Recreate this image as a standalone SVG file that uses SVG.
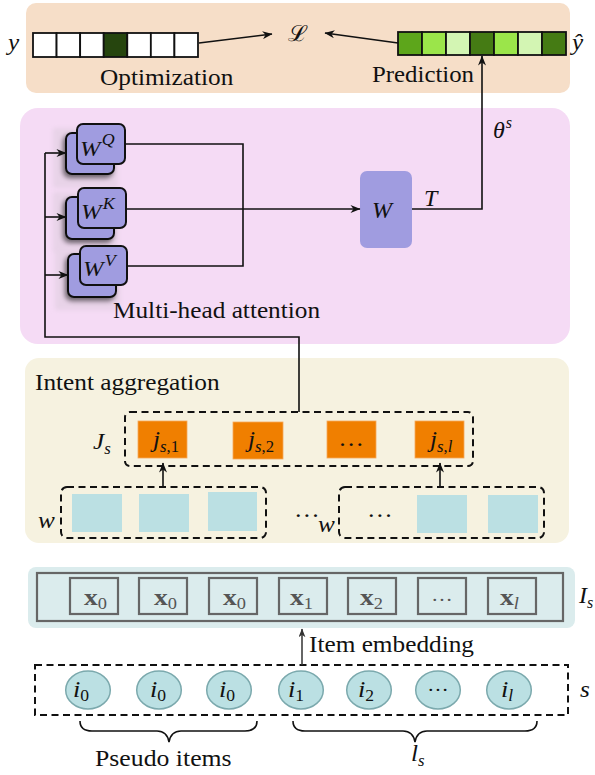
<svg xmlns="http://www.w3.org/2000/svg" width="595" height="775" viewBox="0 0 595 775">
<style>
.t{font-family:"Liberation Serif",serif;font-size:23px;fill:#111}
.m{font-family:"Liberation Serif",serif;font-style:italic;font-size:24px;fill:#111}
.sb{font-size:16px}
.up{font-style:normal}
.it{font-style:italic}
.ln{fill:none;stroke:#111;stroke-width:1.6}
.dash{fill:none;stroke:#111;stroke-width:2;stroke-dasharray:7 4.5}
.wb{fill:#a09ce0;stroke:#111;stroke-width:2}
.or{fill:#f07f00;stroke:#f6a85a;stroke-width:0.8}
.bl{fill:#bbe0e3}
.xb{fill:none;stroke:#666;stroke-width:2.2}
.xt{font-family:"Liberation Serif",serif;font-weight:bold;font-size:24px;fill:#555}
.cir{fill:#bbe0e3;stroke:#7ba9ad;stroke-width:1.5}
.shreg{fill:#e8d3e8}
</style>
<defs>
<marker id="ah" viewBox="0 0 10 8" refX="9.5" refY="4" markerWidth="11" markerHeight="8" markerUnits="userSpaceOnUse" orient="auto">
<path d="M0,0 L10,4 L0,8 L3,4 z" fill="#111"/>
</marker>
<marker id="ahg" viewBox="0 0 10 8" refX="9.5" refY="4" markerWidth="9" markerHeight="7" markerUnits="userSpaceOnUse" orient="auto">
<path d="M0,0 L10,4 L0,8 L3,4 z" fill="#333"/>
</marker>
<filter id="sh" x="-40%" y="-40%" width="180%" height="180%">
<feGaussianBlur in="SourceAlpha" stdDeviation="2.5"/>
<feOffset dx="-2" dy="3" result="o"/>
<feComponentTransfer><feFuncA type="linear" slope="0.55"/></feComponentTransfer>
<feMerge><feMergeNode/><feMergeNode in="SourceGraphic"/></feMerge>
</filter>
<filter id="soft" x="-20%" y="-20%" width="140%" height="140%">
<feGaussianBlur stdDeviation="2"/>
</filter>
</defs>

<!-- panels -->
<g id="panel-output">
<rect x="26" y="3" width="544" height="90" rx="10" fill="#f6dec8"/>
</g>
<g id="panel-attention">
<rect x="20" y="108" width="550" height="236" rx="18" fill="#f5dbf5"/>
</g>
<g id="panel-intent">
<rect x="25" y="358" width="544" height="185" rx="14" fill="#f6f2e0"/>
</g>
<g id="panel-embedding">
<rect x="28" y="567" width="547" height="61" rx="8" fill="#dbeced"/>
<rect x="37" y="573" width="526" height="48" class="xb"/>
</g>

<!-- output row -->
<g id="node-y">
<rect x="33" y="33" width="23.57" height="24" fill="#fff" stroke="#111" stroke-width="1.8"/>
<rect x="56.57" y="33" width="23.57" height="24" fill="#fff" stroke="#111" stroke-width="1.8"/>
<rect x="80.14" y="33" width="23.57" height="24" fill="#fff" stroke="#111" stroke-width="1.8"/>
<rect x="103.71" y="33" width="23.57" height="24" fill="#26450e" stroke="#111" stroke-width="1.8"/>
<rect x="127.28" y="33" width="23.57" height="24" fill="#fff" stroke="#111" stroke-width="1.8"/>
<rect x="150.85" y="33" width="23.57" height="24" fill="#fff" stroke="#111" stroke-width="1.8"/>
<rect x="174.42" y="33" width="23.57" height="24" fill="#fff" stroke="#111" stroke-width="1.8"/>
<text class="m" transform="translate(8 50) scale(1.05 1)">y</text>
<text class="t" transform="translate(100 85) scale(1.1 1)">Optimization</text>
</g>
<g id="node-loss">
<text transform="translate(288 41) scale(1.1 1)" style="font-family:'DejaVu Serif',serif;font-size:22px;fill:#111">ℒ</text>
</g>
<g id="node-yhat">
<rect x="398" y="32" width="24" height="23" fill="#5da61b" stroke="#111" stroke-width="1.8"/>
<rect x="422" y="32" width="24" height="23" fill="#9be54a" stroke="#111" stroke-width="1.8"/>
<rect x="446" y="32" width="24" height="23" fill="#d3f5b3" stroke="#111" stroke-width="1.8"/>
<rect x="470" y="32" width="24" height="23" fill="#457b14" stroke="#111" stroke-width="1.8"/>
<rect x="494" y="32" width="24" height="23" fill="#9be54a" stroke="#111" stroke-width="1.8"/>
<rect x="518" y="32" width="24" height="23" fill="#d3f5b3" stroke="#111" stroke-width="1.8"/>
<rect x="542" y="32" width="24" height="23" fill="#457b14" stroke="#111" stroke-width="1.8"/>
<text class="m" transform="translate(572 50) scale(1.05 1)">ŷ</text>
<text class="t" transform="translate(372 82) scale(1.08 1)">Prediction</text>
</g>

<!-- attention heads -->
<g id="node-wq">
<rect x="53" y="128" width="65" height="60" class="shreg" filter="url(#soft)"/>
<rect x="66" y="133" width="48" height="41" rx="6" class="wb" filter="url(#sh)"/>
<rect x="77" y="124" width="48" height="40" rx="6" class="wb"/>
<text class="m" transform="translate(80 156) scale(1.12 1)" style="font-size:22px">W<tspan class="sb" dx="1" dy="-11">Q</tspan></text>
</g>
<g id="node-wk">
<rect x="53" y="192" width="65" height="60" class="shreg" filter="url(#soft)"/>
<rect x="66" y="197" width="48" height="42" rx="6" class="wb" filter="url(#sh)"/>
<rect x="78" y="188" width="48" height="40" rx="6" class="wb"/>
<text class="m" transform="translate(81 219) scale(1.12 1)" style="font-size:22px">W<tspan class="sb" dx="1" dy="-10">K</tspan></text>
</g>
<g id="node-wv">
<rect x="55" y="248" width="65" height="62" class="shreg" filter="url(#soft)"/>
<rect x="68" y="254" width="48" height="43" rx="6" class="wb" filter="url(#sh)"/>
<rect x="80" y="246" width="47" height="39" rx="6" class="wb"/>
<text class="m" transform="translate(83 276) scale(1.12 1)" style="font-size:22px">W<tspan class="sb" dx="1" dy="-10">V</tspan></text>
</g>
<g id="label-mha">
<text class="t" transform="translate(113 318) scale(1.1 1)">Multi-head attention</text>
</g>
<g id="node-w">
<rect x="360" y="171" width="52" height="77" rx="7" fill="#a09ce0"/>
<text class="m" transform="translate(372 218)">W</text>
</g>

<!-- intent aggregation -->
<g id="label-intent">
<text class="t" transform="translate(35 390) scale(1.1 1)">Intent aggregation</text>
</g>
<g id="node-js">
<rect x="125" y="412" width="348" height="54" rx="5" class="dash"/>
<rect x="138" y="421" width="49" height="37" class="or"/>
<rect x="233" y="422" width="50" height="37" class="or"/>
<rect x="327" y="421" width="49" height="37" class="or"/>
<rect x="415" y="421" width="49" height="37" class="or"/>
<text class="m" transform="translate(93 449) scale(1.05 1)">J<tspan class="sb it" dy="5">s</tspan></text>
<text class="m" transform="translate(153 447) scale(1.05 1)">j<tspan class="sb" dy="5"><tspan class="it">s</tspan><tspan class="up">,1</tspan></tspan></text>
<text class="m" transform="translate(248 447) scale(1.05 1)">j<tspan class="sb" dy="5"><tspan class="it">s</tspan><tspan class="up">,2</tspan></tspan></text>
<text class="t" text-anchor="middle" transform="translate(351 446) scale(1.12 1)">…</text>
<text class="m" transform="translate(430 447) scale(1.05 1)">j<tspan class="sb" dy="5"><tspan class="it">s</tspan><tspan class="up">,</tspan><tspan class="it">l</tspan></tspan></text>
</g>
<g id="node-w-left">
<rect x="61" y="487" width="205" height="51" rx="6" class="dash"/>
<rect x="72" y="494" width="50" height="38" class="bl"/>
<rect x="139" y="494" width="50" height="38" class="bl"/>
<rect x="208" y="492" width="49" height="39" class="bl"/>
<text class="m" transform="translate(38 528) scale(1.05 1)">w</text>
</g>
<g id="label-dots-mid">
<text class="t" transform="translate(294 517) scale(1.12 1)">…</text>
</g>
<g id="node-w-right">
<rect x="339" y="487" width="205" height="51" rx="6" class="dash"/>
<text class="t" transform="translate(367 517) scale(1.12 1)">…</text>
<rect x="417" y="495" width="50" height="38" class="bl"/>
<rect x="488" y="495" width="50" height="38" class="bl"/>
<text class="m" transform="translate(318 532) scale(1.05 1)">w</text>
</g>

<!-- embeddings -->
<g id="node-is">
<rect x="70" y="578" width="48" height="36" class="xb"/>
<rect x="139" y="578" width="48" height="36" class="xb"/>
<rect x="209" y="578" width="48" height="36" class="xb"/>
<rect x="279" y="578" width="48" height="36" class="xb"/>
<rect x="348" y="578" width="48" height="36" class="xb"/>
<rect x="418" y="578" width="48" height="36" class="xb"/>
<rect x="488" y="578" width="48" height="36" class="xb"/>
<text class="xt" transform="translate(84 605) scale(1.15 1)">x<tspan class="sb" font-weight="normal" dy="4">0</tspan></text>
<text class="xt" transform="translate(154 605) scale(1.15 1)">x<tspan class="sb" font-weight="normal" dy="4">0</tspan></text>
<text class="xt" transform="translate(223 605) scale(1.15 1)">x<tspan class="sb" font-weight="normal" dy="4">0</tspan></text>
<text class="xt" transform="translate(290 605) scale(1.15 1)">x<tspan class="sb" font-weight="normal" dy="4">1</tspan></text>
<text class="xt" transform="translate(360 605) scale(1.15 1)">x<tspan class="sb" font-weight="normal" dy="4">2</tspan></text>
<text class="t" text-anchor="middle" transform="translate(442 601) scale(1.19 1)" style="fill:#555;font-size:18px">…</text>
<text class="xt" transform="translate(500 605) scale(1.15 1)">x<tspan class="sb" font-weight="normal" font-style="italic" dy="4">l</tspan></text>
<text class="m" transform="translate(579 603) scale(1.0 1)">I<tspan class="sb it" dy="5">s</tspan></text>
</g>
<g id="label-item-embedding">
<text class="t" transform="translate(309 652) scale(1.1 1)">Item embedding</text>
</g>

<!-- session -->
<g id="node-s">
<rect x="35" y="665" width="533" height="50" class="dash"/>
<ellipse cx="88" cy="690" rx="22.3" ry="19" class="cir"/>
<ellipse cx="159" cy="690" rx="22.3" ry="19" class="cir"/>
<ellipse cx="229" cy="690" rx="22.3" ry="19" class="cir"/>
<ellipse cx="301" cy="690" rx="22.3" ry="19" class="cir"/>
<ellipse cx="369" cy="690" rx="22.3" ry="19" class="cir"/>
<ellipse cx="438" cy="690" rx="22.3" ry="19" class="cir"/>
<ellipse cx="509" cy="690" rx="22.3" ry="19" class="cir"/>
<text class="m" text-anchor="middle" transform="translate(81 697) scale(1.1 1)">i<tspan class="sb up" dy="4">0</tspan></text>
<text class="m" text-anchor="middle" transform="translate(158 697) scale(1.1 1)">i<tspan class="sb up" dy="4">0</tspan></text>
<text class="m" text-anchor="middle" transform="translate(227 697) scale(1.1 1)">i<tspan class="sb up" dy="4">0</tspan></text>
<text class="m" text-anchor="middle" transform="translate(296 697) scale(1.1 1)">i<tspan class="sb up" dy="4">1</tspan></text>
<text class="m" text-anchor="middle" transform="translate(366 697) scale(1.1 1)">i<tspan class="sb up" dy="4">2</tspan></text>
<text class="t" text-anchor="middle" transform="translate(438 691) scale(1.19 1)" style="font-size:18px">…</text>
<text class="m" text-anchor="middle" transform="translate(507 697) scale(1.1 1)">i<tspan class="sb it" dy="4">l</tspan></text>
<text class="m" transform="translate(580 697) scale(1.05 1)">s</text>
</g>
<g id="brace-pseudo">
<path d="M80,721 Q80,731 92,731 L157,731 Q167,731 169,742 Q171,731 181,731 L245,731 Q257,731 257,721" class="ln"/>
<text class="t" transform="translate(95 766) scale(1.12 1)">Pseudo items</text>
</g>
<g id="brace-ls">
<path d="M293,721 Q293,731 305,731 L403,731 Q413,731 415,742 Q417,731 427,731 L525,731 Q537,731 537,721" class="ln"/>
<text class="m" transform="translate(411 761) scale(1.05 1)">l<tspan class="sb it" dy="5">s</tspan></text>
</g>

<!-- connectors -->
<g id="connectors">
<line x1="199" y1="43" x2="272" y2="34" class="ln" marker-end="url(#ah)"/>
<line x1="398" y1="43" x2="325" y2="33" class="ln" marker-end="url(#ah)"/>
<path d="M125,144 H243 V266 H127" class="ln"/>
<path d="M126,209 H360" class="ln" marker-end="url(#ah)"/>
<path d="M299,412 V337 H45 V153" class="ln"/>
<path d="M45,153 H66" class="ln" marker-end="url(#ah)"/>
<path d="M45,217 H66" class="ln" marker-end="url(#ah)"/>
<path d="M45,275 H68" class="ln" marker-end="url(#ah)"/>
<path d="M412,209 H482 V56" class="ln" marker-end="url(#ah)"/>
<path d="M163,487 V463" class="ln" marker-end="url(#ah)"/>
<path d="M440,487 V463" class="ln" marker-end="url(#ah)"/>
<path d="M302,665 V629" fill="none" stroke="#333" stroke-width="1.5" marker-end="url(#ahg)"/>
</g>
<g id="connector-labels">
<text class="m" transform="translate(424 206)">T</text>
<text class="m" transform="translate(493 138)">θ<tspan class="sb it" dx="1" dy="-10">s</tspan></text>
</g>
</svg>
